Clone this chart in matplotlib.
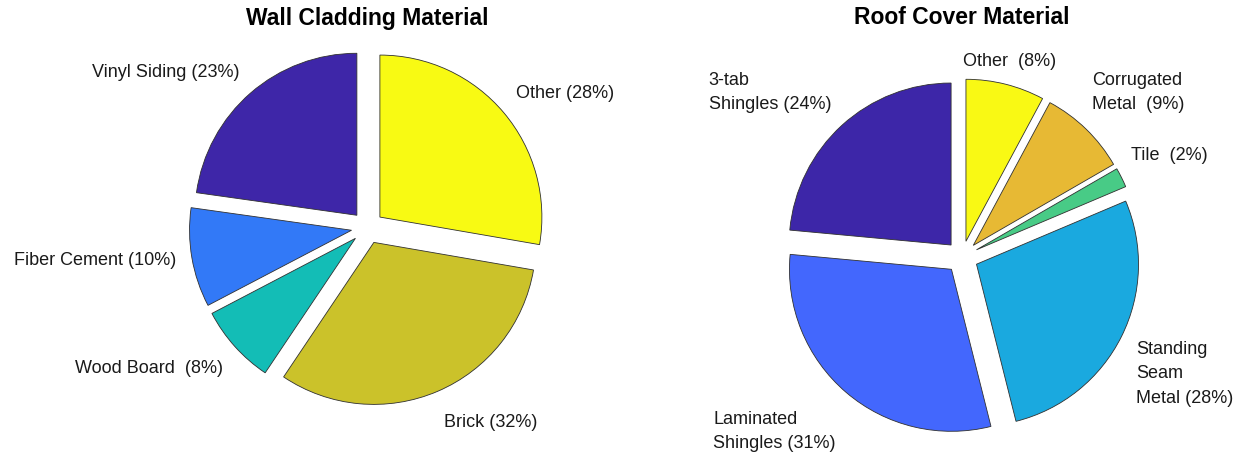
import matplotlib
matplotlib.use("Agg")
import matplotlib.pyplot as plt

plt.rcParams['font.family'] = ['Liberation Sans', 'DejaVu Sans']

# wall cladding data
wall_labels = ['Vinyl Siding (23%)', 'Fiber Cement (10%)', 'Wood Board  (8%)',
               'Brick (32%)', 'Other (28%)']
wall_values = [23, 10, 8, 32, 28]
wall_colors = ['#3E26A8', '#3279F7', '#13BDB6', '#CBC22A', '#F8FA13']

# roof cover data
roof_labels = ['3-tab\nShingles (24%)', 'Laminated\nShingles (31%)',
               'Standing\nSeam\nMetal (28%)', 'Tile  (2%)',
               'Corrugated\nMetal  (9%)', 'Other  (8%)']
roof_values = [24, 31, 28, 2, 9, 8]
roof_colors = ['#3D26A8', '#4367FD', '#1AA9DF', '#48CB86', '#E7B934', '#F9F914']

W, H = 1254, 455
fig = plt.figure(figsize=(W / 100, H / 100), dpi=100)

R = 162      # pie radius in pixels
EXT = 1.4    # axes half extent in pie radii


def make_pie(cx, cy, values, labels, colors, title, nudge):
    half = EXT * R
    ax = fig.add_axes([(cx - half) / W, (H - cy - half) / H, 2 * half / W, 2 * half / H])
    wedges, texts = ax.pie(values, labels=labels, colors=colors,
                           explode=[0.1] * len(values), startangle=90,
                           counterclock=True, labeldistance=1.1,
                           wedgeprops=dict(edgecolor='#303030', linewidth=0.6),
                           textprops=dict(fontsize=13, color='#1a1a1a'))
    for i, t in enumerate(texts):
        x, y = t.get_position()
        if abs(x) < 0.35:
            t.set_ha('center')
        else:
            t.set_ha('left' if x > 0 else 'right')
        if abs(y) < 0.3:
            t.set_va('center')
        else:
            t.set_va('bottom' if y > 0 else 'top')
        t.set_multialignment('left')
        t.set_linespacing(1.6)
        # small label nudges (pixels, y up) to mimic the original layout
        dx, dy = nudge.get(i, (0, 0))
        t.set_position((x + dx / R, y + dy / R))
    ax.set_xlim(-EXT, EXT)
    ax.set_ylim(-EXT, EXT)
    ax.axis('off')
    fig.text(cx / W, 1 - 18 / H, title, ha='center', va='center',
             fontsize=16.5, fontweight='bold')
    return ax


make_pie(367.5, 227.5, wall_values, wall_labels, wall_colors, 'Wall Cladding Material',
         {2: (0, -3), 3: (0, -8)})
make_pie(962, 257, roof_values, roof_labels, roof_colors, 'Roof Cover Material',
         {1: (0, -6), 2: (0, 3), 3: (-5, 6), 4: (-5, 4), 5: (0, -2)})

fig.savefig('out.png', dpi=100)
